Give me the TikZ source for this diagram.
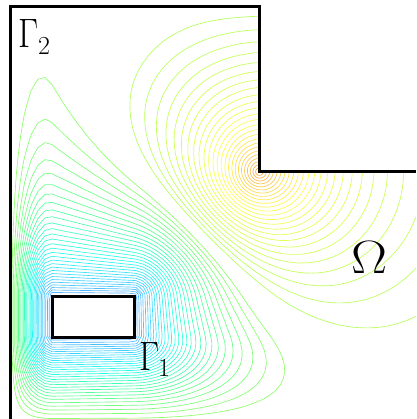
\documentclass[tikz,border=0pt]{standalone}
\usepackage{fontspec}
\usepackage{graphicx}
\tikzset{
  rsline/.style={line width=0.65pt, line cap=round, line join=round},
  wall/.style={line width=3pt, line join=miter},
  lab/.style={inner sep=0pt, outer sep=0pt, anchor=base west, font=\fontsize{20.74}{21}\selectfont},
}
\newcommand{\rsdigit}[1]{{\fontsize{26}{26}\selectfont #1}}
\definecolor{rsB0}{rgb}{0.55,1,0.40}
\definecolor{rsB1}{rgb}{0.30,1,0.62}
\definecolor{rsB2}{rgb}{0.15,1,0.92}
\definecolor{rsB3}{rgb}{0.25,0.85,1}
\definecolor{rsB4}{rgb}{0.35,0.68,1}
\definecolor{rsA0}{rgb}{0.70,1,0.35}
\definecolor{rsA1}{rgb}{0.85,1,0.30}
\definecolor{rsA2}{rgb}{1,1,0.30}
\definecolor{rsA3}{rgb}{1,0.82,0.30}
\definecolor{rsA4}{rgb}{1,0.58,0.25}
\ExplSyntaxOn
\fp_new:N \l_rs_x_fp
\fp_new:N \l_rs_y_fp
\fp_new:N \l_rs_dx_fp
\fp_new:N \l_rs_dy_fp
\fp_new:N \l_rs_rho_fp
\fp_new:N \l_rs_fa_fp
\fp_new:N \l_rs_fb_fp
\fp_new:N \l_rs_s_fp
\tl_new:N \l_rs_val_tl
\tl_new:N \l_rs_map_tl
\int_new:N \l_rs_a_int
\int_new:N \l_rs_b_int
\int_new:N \l_rs_c_int
\int_new:N \l_rs_d_int
\int_new:N \l_rs_k_int
\int_new:N \l_rs_mn_int
\int_new:N \l_rs_mx_int
\int_new:N \l_rs_xo_int
\int_new:N \l_rs_yo_int
\int_new:N \l_rs_h_int
\int_new:N \l_rs_nx_int
\int_new:N \l_rs_ny_int
\int_new:N \l_rs_wxa_int
\int_new:N \l_rs_wxb_int
\int_new:N \l_rs_wya_int
\int_new:N \l_rs_wyb_int
\int_new:N \l_rs_i_int
\int_new:N \l_rs_j_int
\int_new:N \l_rs_xi_int
\int_new:N \l_rs_yj_int
\int_new:N \l_rs_lo_int
\int_new:N \l_rs_hi_int
\bool_new:N \l_rs_fa_bool
\bool_new:N \l_rs_fb_bool
\bool_new:N \l_rs_fc_bool
\bool_new:N \l_rs_fd_bool
\bool_new:N \l_rs_m_bool
\seq_new:N \l_rs_pts_seq

\cs_new_protected:Npn \rs_eval:nn #1#2
 {
  \fp_set:Nn \l_rs_x_fp {#1}
  \fp_set:Nn \l_rs_y_fp {#2}
  \fp_set:Nn \l_rs_dx_fp { max(abs(\l_rs_x_fp - 93) - 41, 0) }
  \fp_set:Nn \l_rs_dy_fp { max(abs(\l_rs_y_fp - 316.5) - 20.5, 0) }
  \fp_set:Nn \l_rs_rho_fp { sqrt(\l_rs_dx_fp * \l_rs_dx_fp + \l_rs_dy_fp * \l_rs_dy_fp) }
  \fp_set:Nn \l_rs_fa_fp
   {
    31 * ( exp(-sqrt((\l_rs_x_fp - 259)^2 + (\l_rs_y_fp - 172)^2) / 85)
         - 0.8 * exp(-sqrt((\l_rs_x_fp - 259)^2 + (\l_rs_y_fp + 158)^2) / 85)
         - exp(-sqrt((\l_rs_x_fp + 239)^2 + (\l_rs_y_fp - 172)^2) / 85) )
       * (1 - exp(-\l_rs_rho_fp / 25))
   }
  \fp_set:Nn \l_rs_fb_fp
   { 32 * exp(-\l_rs_rho_fp / 80) * (1 - 2 / (exp(2 * (\l_rs_y_fp - 7) / 30) + 1))
        * sin(pi / 2 * min(1, (\l_rs_x_fp - 10) / 42)) }
  \tl_set:Nx \l_rs_val_tl
   { \fp_eval:n { round(((\l_rs_fa_fp - \l_rs_fb_fp) * sin(pi / 2 * max(0, min(1, (426 - \l_rs_y_fp) / 89))) - 0.5) * 10000) } }
 }

\cs_new_protected:Npn \rs_fill:n #1
 {
  \int_step_inline:nnn {0} {\l_rs_nx_int}
   {
    \int_set:Nn \l_rs_i_int {##1}
    \int_step_inline:nnn {0} {\l_rs_ny_int}
     {
      \bool_if:nF
       {
        \int_compare_p:nNn { \l_rs_xo_int + \l_rs_h_int * \l_rs_i_int - \l_rs_h_int } > { 258 }
        && \int_compare_p:nNn { \l_rs_yo_int + \l_rs_h_int * ####1 + \l_rs_h_int } < { 173 }
       }
       {
        \rs_eval:nn
         { \int_eval:n { \l_rs_xo_int + \l_rs_h_int * \l_rs_i_int } }
         { \int_eval:n { \l_rs_yo_int + \l_rs_h_int * ####1 } }
        \tl_gset_eq:cN { g_rs_v #1 _ \int_use:N \l_rs_i_int _ ####1 } \l_rs_val_tl
       }
     }
   }
 }

\cs_new:Npn \rs_floordiv:n #1
 {
  \int_compare:nNnTF {#1} < {0}
   { ( 0 - \int_div_truncate:nn { 9999 - (#1) } {10000} ) }
   { ( \int_div_truncate:nn {#1} {10000} ) }
 }

\cs_new_protected:Npn \rs_seg:nnn #1#2#3
 {
  \tl_gput_right:cx { g_rs_path_ \int_eval:n { #1 + 40 } }
   { ( \seq_item:Nn \l_rs_pts_seq {#2} ) -- ( \seq_item:Nn \l_rs_pts_seq {#3} ) }
 }

\cs_new_protected:Npn \rs_level:n #1
 {
  \int_set:Nn \l_rs_k_int { #1 * 10000 }
  \bool_set:Nn \l_rs_fa_bool { \int_compare_p:nNn { \l_rs_a_int } > { \l_rs_k_int } }
  \bool_set:Nn \l_rs_fb_bool { \int_compare_p:nNn { \l_rs_b_int } > { \l_rs_k_int } }
  \bool_set:Nn \l_rs_fc_bool { \int_compare_p:nNn { \l_rs_c_int } > { \l_rs_k_int } }
  \bool_set:Nn \l_rs_fd_bool { \int_compare_p:nNn { \l_rs_d_int } > { \l_rs_k_int } }
  \seq_clear:N \l_rs_pts_seq
  \bool_if:nT { ( \l_rs_fa_bool && ! \l_rs_fb_bool ) || ( ! \l_rs_fa_bool && \l_rs_fb_bool ) }
   {
    \seq_put_right:Nx \l_rs_pts_seq
     { \int_eval:n { \l_rs_xi_int * 10 + \l_rs_h_int * 10 * (\l_rs_k_int - \l_rs_a_int) / (\l_rs_b_int - \l_rs_a_int) } , \int_eval:n { \l_rs_yj_int * 10 } }
   }
  \bool_if:nT { ( \l_rs_fb_bool && ! \l_rs_fc_bool ) || ( ! \l_rs_fb_bool && \l_rs_fc_bool ) }
   {
    \seq_put_right:Nx \l_rs_pts_seq
     { \int_eval:n { (\l_rs_xi_int + \l_rs_h_int) * 10 } , \int_eval:n { \l_rs_yj_int * 10 + \l_rs_h_int * 10 * (\l_rs_k_int - \l_rs_b_int) / (\l_rs_c_int - \l_rs_b_int) } }
   }
  \bool_if:nT { ( \l_rs_fc_bool && ! \l_rs_fd_bool ) || ( ! \l_rs_fc_bool && \l_rs_fd_bool ) }
   {
    \seq_put_right:Nx \l_rs_pts_seq
     { \int_eval:n { (\l_rs_xi_int + \l_rs_h_int) * 10 - \l_rs_h_int * 10 * (\l_rs_k_int - \l_rs_c_int) / (\l_rs_d_int - \l_rs_c_int) } , \int_eval:n { (\l_rs_yj_int + \l_rs_h_int) * 10 } }
   }
  \bool_if:nT { ( \l_rs_fd_bool && ! \l_rs_fa_bool ) || ( ! \l_rs_fd_bool && \l_rs_fa_bool ) }
   {
    \seq_put_right:Nx \l_rs_pts_seq
     { \int_eval:n { \l_rs_xi_int * 10 } , \int_eval:n { (\l_rs_yj_int + \l_rs_h_int) * 10 - \l_rs_h_int * 10 * (\l_rs_k_int - \l_rs_d_int) / (\l_rs_a_int - \l_rs_d_int) } }
   }
  \int_case:nn { \seq_count:N \l_rs_pts_seq }
   {
    { 2 } { \rs_seg:nnn {#1} {1} {2} }
    { 4 }
     {
      \int_compare:nNnTF { \l_rs_a_int + \l_rs_b_int + \l_rs_c_int + \l_rs_d_int } > { 4 * \l_rs_k_int }
       { \bool_set_true:N \l_rs_m_bool } { \bool_set_false:N \l_rs_m_bool }
      \bool_if:nTF { ( \l_rs_m_bool && \l_rs_fa_bool ) || ( ! \l_rs_m_bool && ! \l_rs_fa_bool ) }
       { \rs_seg:nnn {#1} {1} {2} \rs_seg:nnn {#1} {3} {4} }
       { \rs_seg:nnn {#1} {4} {1} \rs_seg:nnn {#1} {2} {3} }
     }
   }
 }

\cs_new_protected:Npn \rs_cell:n #1
 {
  \int_set:Nn \l_rs_xi_int { \l_rs_xo_int + \l_rs_h_int * \l_rs_i_int }
  \int_set:Nn \l_rs_yj_int { \l_rs_yo_int + \l_rs_h_int * \l_rs_j_int }
  \bool_if:nF
   {
     ( \int_compare_p:nNn { \l_rs_xi_int } > { 258 } && \int_compare_p:nNn { \l_rs_yj_int + \l_rs_h_int } < { 173 } )
     ||
     ( \int_compare_p:nNn { \l_rs_i_int } > { \l_rs_wxa_int - 1 } && \int_compare_p:nNn { \l_rs_i_int } < { \l_rs_wxb_int + 1 }
       && \int_compare_p:nNn { \l_rs_j_int } > { \l_rs_wya_int - 1 } && \int_compare_p:nNn { \l_rs_j_int } < { \l_rs_wyb_int + 1 } )
   }
   {
    \int_set:Nn \l_rs_a_int { \use:c { g_rs_v #1 _ \int_use:N \l_rs_i_int _ \int_use:N \l_rs_j_int } }
    \int_set:Nn \l_rs_b_int { \use:c { g_rs_v #1 _ \int_eval:n { \l_rs_i_int + 1 } _ \int_use:N \l_rs_j_int } }
    \int_set:Nn \l_rs_c_int { \use:c { g_rs_v #1 _ \int_eval:n { \l_rs_i_int + 1 } _ \int_eval:n { \l_rs_j_int + 1 } } }
    \int_set:Nn \l_rs_d_int { \use:c { g_rs_v #1 _ \int_use:N \l_rs_i_int _ \int_eval:n { \l_rs_j_int + 1 } } }
    \int_set:Nn \l_rs_mn_int { \int_min:nn { \int_min:nn { \l_rs_a_int } { \l_rs_b_int } } { \int_min:nn { \l_rs_c_int } { \l_rs_d_int } } }
    \int_set:Nn \l_rs_mx_int { \int_max:nn { \int_max:nn { \l_rs_a_int } { \l_rs_b_int } } { \int_max:nn { \l_rs_c_int } { \l_rs_d_int } } }
    \int_set:Nn \l_rs_mn_int { 0 - \l_rs_mn_int }
    \int_set:Nn \l_rs_lo_int { 0 - \rs_floordiv:n { \l_rs_mn_int } }
    \int_set:Nn \l_rs_lo_int { \int_max:nn { \l_rs_lo_int } { -32 } }
    \int_set:Nn \l_rs_hi_int { \rs_floordiv:n { \l_rs_mx_int } }
    \int_set:Nn \l_rs_hi_int { \int_min:nn { \l_rs_hi_int } { 28 } }
    \int_step_inline:nnn { \l_rs_lo_int } { \l_rs_hi_int }
     {
      \int_compare:nNnF { ##1 * (##1 + 1) } = { 0 } { \rs_level:n {##1} }
     }
   }
 }

\cs_new_protected:Npn \rs_cells:n #1
 {
  \int_step_inline:nnn {0} { \l_rs_nx_int - 1 }
   {
    \int_set:Nn \l_rs_i_int {##1}
    \int_step_inline:nnn {0} { \l_rs_ny_int - 1 }
     {
      \int_set:Nn \l_rs_j_int {####1}
      \rs_cell:n {#1}
     }
   }
 }

\cs_new_protected:Npn \rs_colors:
 {
  \int_step_inline:nnn {-32} {28}
   {
    \fp_set:Nn \l_rs_s_fp { ##1 + 0.5 }
    \fp_compare:nNnTF { \l_rs_s_fp } < { 0 }
     { \tl_set:Nn \l_rs_map_tl {rsB} \fp_set:Nn \l_rs_s_fp { max(0, min(1, (-\l_rs_s_fp - 1.5) / 30)) } }
     { \tl_set:Nn \l_rs_map_tl {rsA} \fp_set:Nn \l_rs_s_fp { max(0, min(1, (\l_rs_s_fp - 1.5) / 25.5)) } }
    \int_set:Nn \l_rs_lo_int { \fp_eval:n { min(floor(4 * \l_rs_s_fp), 3) } }
    \int_set:Nn \l_rs_hi_int { \fp_eval:n { round((4 * \l_rs_s_fp - \int_use:N \l_rs_lo_int) * 100) } }
    \use:x
     {
      \exp_not:N \colorlet { rsc \int_eval:n { ##1 + 40 } }
       { \l_rs_map_tl \int_eval:n { \l_rs_lo_int + 1 } ! \int_use:N \l_rs_hi_int ! \l_rs_map_tl \int_use:N \l_rs_lo_int }
     }
   }
 }

\cs_new_protected:Npn \rs_compute:
 {
  \int_step_inline:nnn {0} {80} { \tl_gclear:c { g_rs_path_ ##1 } }
  \int_set:Nn \l_rs_xo_int {10}
  \int_set:Nn \l_rs_yo_int {7}
  \int_set:Nn \l_rs_h_int {7}
  \int_set:Nn \l_rs_nx_int {58}
  \int_set:Nn \l_rs_ny_int {59}
  \int_set:Nn \l_rs_wxa_int {32}
  \int_set:Nn \l_rs_wxb_int {39}
  \int_set:Nn \l_rs_wya_int {20}
  \int_set:Nn \l_rs_wyb_int {27}
  \rs_fill:n {c}
  \rs_cells:n {c}
  \int_set:Nn \l_rs_xo_int {234}
  \int_set:Nn \l_rs_yo_int {147}
  \int_set:Nn \l_rs_h_int {2}
  \int_set:Nn \l_rs_nx_int {28}
  \int_set:Nn \l_rs_ny_int {28}
  \int_set:Nn \l_rs_wxa_int {1000}
  \int_set:Nn \l_rs_wxb_int {-1}
  \rs_fill:n {f}
  \rs_cells:n {f}
  \rs_colors:
 }

\cs_new_protected:Npn \rs_draw:
 {
  \int_step_inline:nnn {8} {68}
   {
    \tl_if_empty:cF { g_rs_path_ ##1 }
     {
      \use:x { \exp_not:N \draw [ rsline , color = rsc ##1 ] \exp_not:v { g_rs_path_ ##1 } ; }
     }
   }
 }
\cs_new_eq:NN \RSCompute \rs_compute:
\cs_new_eq:NN \RSDraw \rs_draw:
\ExplSyntaxOff
\RSCompute
\begin{document}
\begin{tikzpicture}[x=1pt,y=-1pt]
\useasboundingbox (0,0) rectangle (416,419);
\begin{scope}[even odd rule]
\clip (10,7) -- (259,7) -- (259,172) -- (416,172) -- (416,419) -- (10,419) -- cycle (52,296) rectangle (134,337);
\begin{scope}[x=0.1pt,y=-0.1pt]
\RSDraw
\end{scope}
\end{scope}
\draw[wall] (10,419) -- (10,7) -- (259,7) -- (259,172) -- (416,172);
\draw[wall] (52,296) rectangle (134,337);
\node[lab] (g2) at (18,48) {\scalebox{1.68}[1.98]{$\Gamma$}\raisebox{-7pt}{\rsdigit{2}}};
\node[lab] (om) at (351,273) {\scalebox{2.6}[2.25]{$\Omega$}};
\node[lab] (g1) at (139,370) {\scalebox{1.68}[1.98]{$\Gamma$}\raisebox{-6pt}{\rsdigit{\kern-1pt 1}}};
\end{tikzpicture}
\end{document}
